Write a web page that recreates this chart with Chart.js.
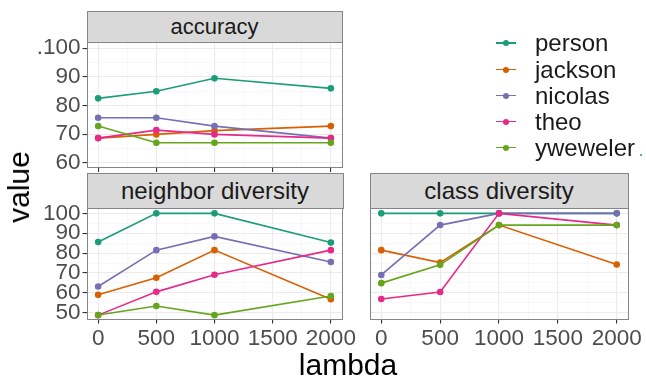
<!DOCTYPE html>
<html>
<head>
<meta charset="utf-8">
<script src="https://cdn.jsdelivr.net/npm/chart.js@4.4.1/dist/chart.umd.min.js"></script>
<style>
  html, body { margin: 0; padding: 0; background: #ffffff; }
  #wrap { position: relative; width: 646px; height: 379px; overflow: hidden;
          font-family: 'Liberation Sans', Arial, sans-serif; }
  #wrap canvas { position: absolute; left: 0; top: 0; }
  .strip { position: absolute; box-sizing: border-box; background: #D9D9D9;
           border: 1px solid #858585; color: #1A1A1A; display: flex;
           align-items: center; justify-content: center; white-space: nowrap; }
  .axis-title { position: absolute; color: #000; white-space: nowrap; font-size: 30px; line-height: 1; }
  .leg-row { position: absolute; left: 494px; height: 24px; display: flex; align-items: center; }
  .leg-key { position: relative; width: 24px; height: 24px; }
  .leg-key .ln { position: absolute; left: 2px; right: 2px; top: 11px; height: 1.6px; }
  .leg-key .pt { position: absolute; left: 9px; top: 9px; width: 6px; height: 6px; border-radius: 50%; }
  .leg-text { margin-left: 17px; font-size: 24px; color: #1A1A1A; }
</style>
</head>
<body>
<div id="wrap">
  <canvas id="cAcc" width="646" height="379"></canvas>
  <canvas id="cNbr" width="646" height="379"></canvas>
  <canvas id="cCls" width="646" height="379"></canvas>
</div>
<script>
// ---- data ----
const lambdas = [0, 500, 1000, 2000];
const people = ['person', 'jackson', 'nicolas', 'theo', 'yweweler'];
const colors = ['#1B9E77', '#D95F02', '#7570B3', '#E7298A', '#66A61E'];

// rows follow the order of `people`
const accuracyValues = [
  [82.5, 85.0, 89.5, 86.0],
  [68.6, 69.9, 71.2, 72.8],
  [75.7, 75.7, 72.8, 68.6],
  [68.6, 71.4, 69.9, 68.6],
  [72.8, 67.0, 67.0, 67.0]
];
const neighborValues = [
  [85.6, 100, 100, 85.3],
  [59.0, 67.6, 81.5, 56.8],
  [63.2, 81.5, 88.4, 75.5],
  [48.8, 60.5, 69.1, 81.5],
  [48.9, 53.4, 48.8, 58.4]
];
const classValues = [
  [100, 100, 100, 100],
  [81.5, 75.2, 94.1, 74.3],
  [69.0, 94.1, 100, 100],
  [56.9, 60.4, 100, 94.1],
  [64.9, 74.1, 94.1, 94.1]
];

const xTicks = [0, 500, 1000, 1500, 2000];
const xMinor = [250, 750, 1250, 1750];
const accYTicks = [60, 70, 80, 90, 100];
const accYLabels = ['60', '70', '80', '90', '.100'];
const accYMinor = [65, 75, 85, 95];
const divYTicks = [50, 60, 70, 80, 90, 100];
const divYLabels = ['50', '60', '70', '80', '90', '100'];
const divYMinor = [55, 65, 75, 85, 95];

// ---- drawing helpers ----
const FONT = "'Liberation Sans', Arial, sans-serif";
const TICK_FONT = { family: FONT, size: 22.5 };
const TICK_COLOR = '#4D4D4D';
const GRID_MAJOR = '#EBEBEB';
const GRID_MINOR = '#F4F4F4';
const BORDER = '#858585';

const panelBorder = {
  id: 'panelBorder',
  afterDraw(chart) {
    const a = chart.chartArea, ctx = chart.ctx;
    ctx.save();
    ctx.strokeStyle = BORDER;
    ctx.lineWidth = 1;
    ctx.strokeRect(Math.round(a.left) + 0.5, Math.round(a.top) + 0.5,
                   Math.round(a.right - a.left) - 1, Math.round(a.bottom - a.top) - 1);
    ctx.restore();
  }
};

function axisConf(major, minor, labels, opts) {
  const all = major.concat(minor);
  const isMajor = v => major.includes(v);
  return {
    type: 'linear',
    min: opts.min,
    max: opts.max,
    afterBuildTicks: s => { s.ticks = all.slice().sort((a, b) => a - b).map(v => ({ value: v })); },
    afterFit: s => {
      if (opts.horizontal) { s.height = opts.size; s.paddingLeft = 0; s.paddingRight = 0; }
      else { s.width = opts.size; s.paddingTop = 0; s.paddingBottom = 0; }
    },
    border: { display: false },
    grid: {
      drawOnChartArea: true,
      drawTicks: opts.ticks,
      tickLength: 4,
      color: c => isMajor(c.tick.value) ? GRID_MAJOR : GRID_MINOR,
      lineWidth: c => isMajor(c.tick.value) ? 1.1 : 0.6,
      tickColor: c => isMajor(c.tick.value) ? '#333333' : 'rgba(0,0,0,0)',
      tickWidth: 1.1
    },
    ticks: {
      display: opts.labels,
      autoSkip: false,
      maxRotation: 0,
      minRotation: 0,
      padding: 2,
      font: TICK_FONT,
      color: TICK_COLOR,
      callback: v => { const i = major.indexOf(v); return i >= 0 ? labels[i] : ''; }
    }
  };
}

function drawPanel(id, values, box) {
  const datasets = people.map((name, i) => ({
    label: name,
    data: lambdas.map((x, j) => ({ x: x, y: values[i][j] })),
    borderColor: colors[i],
    backgroundColor: colors[i],
    borderWidth: 1.6,
    pointRadius: 3.3,
    pointBorderWidth: 0,
    pointHoverRadius: 3.3,
    tension: 0,
    order: people.length - i
  }));
  const X_H = 50;
  return new Chart(document.getElementById(id), {
    type: 'line',
    data: { datasets: datasets },
    options: {
      responsive: false,
      animation: false,
      events: [],
      layout: { padding: { left: 0, top: box.top, right: 646 - box.right, bottom: 379 - box.bottom - X_H } },
      plugins: { legend: { display: false }, tooltip: { enabled: false } },
      scales: {
        x: axisConf(xTicks, xMinor, xTicks.map(String),
                    { min: -100, max: 2100, horizontal: true, size: X_H, ticks: true, labels: box.xLabels }),
        y: axisConf(box.yTicks, box.yMinor, box.yLabels,
                    { min: box.yMin, max: box.yMax, horizontal: false, size: box.left, ticks: box.yTickMarks, labels: box.yTickMarks })
      }
    },
    plugins: [panelBorder]
  });
}

drawPanel('cAcc', accuracyValues, {
  left: 86.5, right: 342.5, top: 42, bottom: 168,
  yMin: 58.15, yMax: 102.2, yTicks: accYTicks, yMinor: accYMinor, yLabels: accYLabels,
  xLabels: false, yTickMarks: true
});
drawPanel('cNbr', neighborValues, {
  left: 86.5, right: 342.5, top: 208, bottom: 319.5,
  yMin: 46.6, yMax: 102.7, yTicks: divYTicks, yMinor: divYMinor, yLabels: divYLabels,
  xLabels: true, yTickMarks: true
});
drawPanel('cCls', classValues, {
  left: 369.5, right: 628.5, top: 208, bottom: 319.5,
  yMin: 46.6, yMax: 102.7, yTicks: divYTicks, yMinor: divYMinor, yLabels: divYLabels,
  xLabels: true, yTickMarks: false
});

// ---- facet strips, axis titles, legend ----
const wrap = document.getElementById('wrap');
function addStrip(text, l, t, r, b, size) {
  const d = document.createElement('div');
  d.className = 'strip';
  d.style.left = l + 'px'; d.style.top = t + 'px';
  d.style.width = (r - l) + 'px'; d.style.height = (b - t) + 'px';
  d.style.fontSize = size + 'px';
  d.textContent = text;
  wrap.appendChild(d);
}
addStrip('accuracy', 86.5, 11, 342.5, 42.5, 22);
addStrip('neighbor diversity', 86.5, 173, 343.5, 208.5, 24);
addStrip('class diversity', 369.5, 173, 628.5, 208.5, 24);

const yTitle = document.createElement('div');
yTitle.className = 'axis-title';
yTitle.textContent = 'value';
yTitle.style.left = '19px'; yTitle.style.top = '187px';
yTitle.style.transform = 'translate(-50%, -50%) rotate(-90deg)';
wrap.appendChild(yTitle);

const xTitle = document.createElement('div');
xTitle.className = 'axis-title';
xTitle.textContent = 'lambda';
xTitle.style.left = '348px'; xTitle.style.top = '365px';
xTitle.style.transform = 'translate(-50%, -50%)';
wrap.appendChild(xTitle);

const legendY = [43.3, 69.6, 95.8, 121.7, 147.7];
people.forEach((name, i) => {
  const row = document.createElement('div');
  row.className = 'leg-row';
  row.style.top = (legendY[i] - 12) + 'px';
  row.innerHTML = '<div class="leg-key"><div class="ln"></div><div class="pt"></div></div><div class="leg-text"></div>';
  row.querySelector('.ln').style.background = colors[i];
  row.querySelector('.pt').style.background = colors[i];
  row.querySelector('.leg-text').textContent = name;
  wrap.appendChild(row);
});
const speck = document.createElement('div');
speck.style.cssText = 'position:absolute;left:640px;top:154px;width:2px;height:2px;border-radius:1px;background:#1B9E77;';
wrap.appendChild(speck);
</script>
</body>
</html>
